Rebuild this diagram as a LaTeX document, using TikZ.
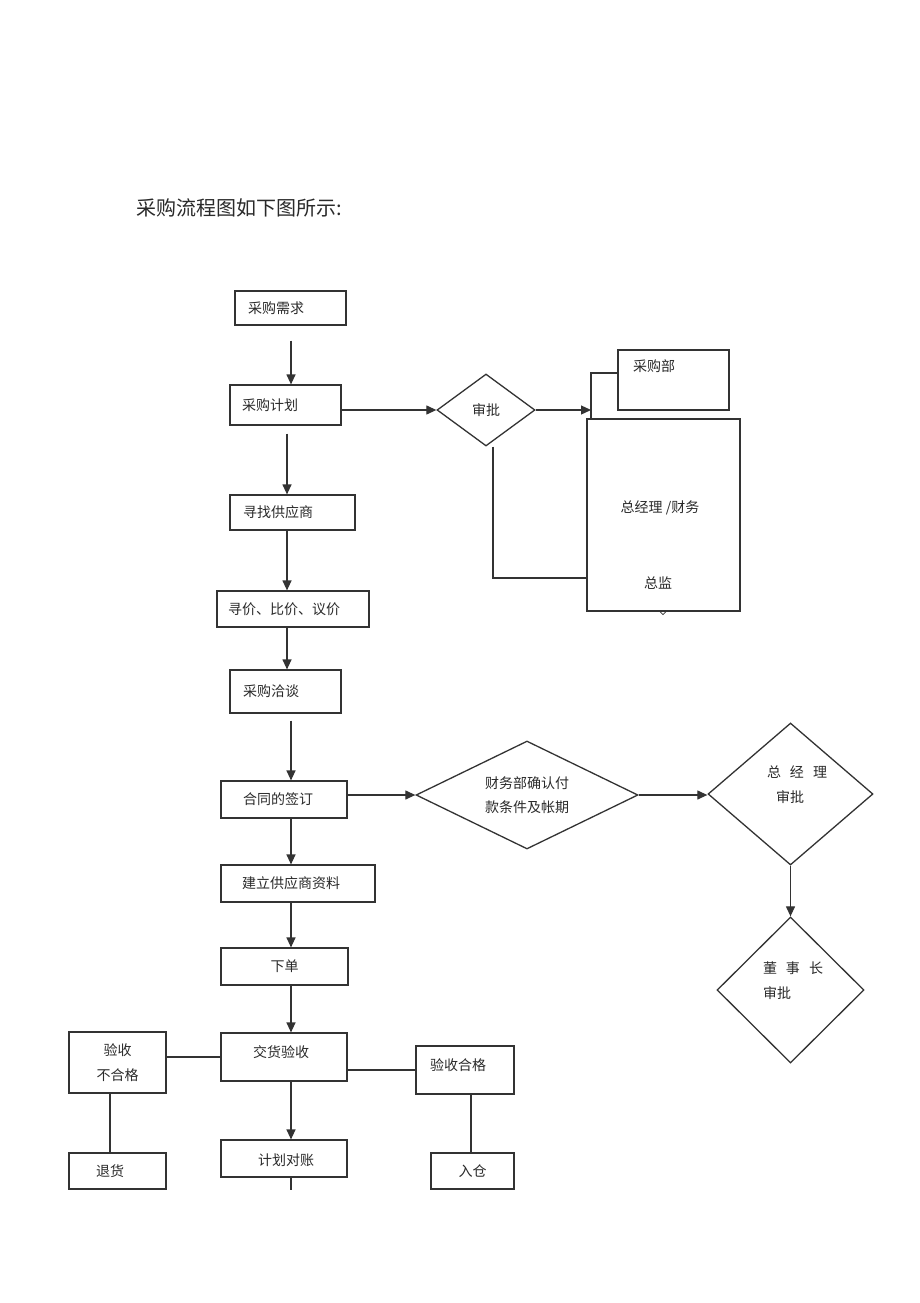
\documentclass[tikz,border=0pt]{standalone}
\usepackage{fontspec}
\newfontfamily\cjk{Noto Sans CJK SC}
\usetikzlibrary{arrows.meta,shapes.geometric}
\definecolor{lc}{HTML}{333333}
\definecolor{tc}{HTML}{2A2A2A}
\begin{document}
\begin{tikzpicture}[x=1pt,y=-1pt,
  box/.style={draw=lc, line width=1.2pt, rectangle, inner ysep=0pt, text=tc,
    font=\cjk\fontsize{14}{16}\selectfont},
  dia/.style={draw=lc, line width=1.3pt, diamond, aspect=2, inner sep=0pt, text=tc,
    font=\cjk\fontsize{14}{16}\selectfont},
  txt/.style={text=tc, inner sep=0pt, font=\cjk\fontsize{14}{16}\selectfont},
  arr/.style={draw=lc, line width=1.2pt, -{Triangle[length=10pt,width=9pt]}},
  ln/.style={draw=lc, line width=1.2pt}]
\useasboundingbox (0,0) rectangle (920,1303);
\fill[white] (0,0) rectangle (920,1303);

% title
\node[txt, anchor=west, font=\cjk\fontsize{20}{22}\selectfont] (title) at (136,208) {采购流程图如下图所示:};

% main column
\node[box, minimum width=111pt, minimum height=34pt, inner xsep=13pt, text width=85pt, align=left] (n1) at (290.5,308) {采购需求};
\node[box, minimum width=111pt, minimum height=40pt, inner xsep=12pt, text width=87pt, align=left] (n2) at (285.5,405) {采购计划};
\node[box, minimum width=125pt, minimum height=35pt, inner xsep=13pt, text width=99pt, align=left] (n3) at (292.5,512.5) {寻找供应商};
\node[box, minimum width=152pt, minimum height=36pt, inner xsep=11pt, text width=130pt, align=left] (n4) at (293,609) {寻价、比价、议价};
\node[box, minimum width=111pt, minimum height=43pt, inner xsep=13pt, text width=85pt, align=left] (n5) at (285.5,691.5) {采购洽谈};
\node[box, minimum width=126pt, minimum height=37pt, inner xsep=22pt, text width=82pt, align=left] (n6) at (284,799.5) {合同的签订};
\node[box, minimum width=154pt, minimum height=37pt, inner xsep=21pt, text width=112pt, align=left] (n7) at (298,883.5) {建立供应商资料};
\node[box, minimum width=127pt, minimum height=37pt] (n8) at (284.5,966.5) {下单};
\node[box, minimum width=126pt, minimum height=48pt] (n9) at (284,1057) {};
\node[txt] (n9t) at (281,1052) {交货验收};
\node[box, minimum width=126pt, minimum height=37pt] (n13) at (284,1158.5) {};
\node[txt] (n13t) at (286,1160) {计划对账};

% side boxes bottom
\node[box, minimum width=97pt, minimum height=61pt, align=center] (n10) at (117.5,1062.5) {验收\\[9pt]不合格};
\node[box, minimum width=98pt, minimum height=48pt] (n11) at (465,1070) {};
\node[txt] (n11t) at (458,1065) {验收合格};
\node[box, minimum width=97pt, minimum height=36pt, inner xsep=27pt, text width=43pt, align=left] (n12) at (117.5,1171) {退货};
\node[box, minimum width=83pt, minimum height=36pt] (n14) at (472.5,1171) {入仓};

% approval right top
\node[dia, minimum width=98pt, minimum height=72pt] (d1) at (486,410) {审批};
\node[box, minimum width=111pt, minimum height=60pt] (cgb) at (673.5,380) {};
\node[txt] (cgbt) at (654,366) {采购部};
\node[box, minimum width=153pt, minimum height=192pt] (big) at (663.5,515) {};
\node[txt] (bt1) at (660,508) {总经理 \textit{/}财务};
\node[txt] (bt2) at (658,583) {总监};

% diamonds right middle
\node[dia, minimum width=222pt, minimum height=108pt, align=center] (d2) at (527,795) {财务部确认付\\[8pt]款条件及帐期};
\node[dia, minimum width=165pt, minimum height=142pt] (d3) at (790.5,794) {};
\node[txt] (d3t1) at (797,772) {总\hspace{9pt}经\hspace{9pt}理};
\node[txt] (d3t2) at (790,797) {审批};
\node[dia, minimum width=147pt, minimum height=146pt] (d4) at (790.5,990) {};
\node[txt] (d4t1) at (793,968) {董\hspace{9pt}事\hspace{9pt}长};
\node[txt] (d4t2) at (777,993) {审批};

% coordinates
\coordinate (j1) at (591,410);
\coordinate (j2) at (591,373);
\coordinate (j3) at (493,578);
\coordinate (endc) at (291,1190);

% vertical arrows main column
\draw[arr, shorten <=15pt] ([xshift=0.5pt]n1.south) -- ([xshift=0.5pt]n1.south |- n2.north);
\draw[arr, shorten <=8pt] ([xshift=1.5pt]n2.south) -- ([xshift=1.5pt]n2.south |- n3.north);
\draw[arr] ([xshift=-5.5pt]n3.south) -- ([xshift=-5.5pt]n3.south |- n4.north);
\draw[arr] ([xshift=-6pt]n4.south) -- ([xshift=-6pt]n4.south |- n5.north);
\draw[arr, shorten <=7pt] ([xshift=5.5pt]n5.south) -- ([xshift=5.5pt]n5.south |- n6.north);
\draw[arr] ([xshift=7pt]n6.south) -- ([xshift=7pt]n6.south |- n7.north);
\draw[arr] ([xshift=-7pt]n7.south) -- ([xshift=-7pt]n7.south |- n8.north);
\draw[arr] ([xshift=6.5pt]n8.south) -- ([xshift=6.5pt]n8.south |- n9.north);
\draw[arr] ([xshift=7pt]n9.south) -- ([xshift=7pt]n9.south |- n13.north);
\draw[ln] ([xshift=7pt]n13.south) -- (endc);

% top right
\draw[arr] (n2.east |- d1.west) -- (d1.west);
\draw[arr] (d1.east) -- (j1);
\draw[ln] (j1 |- big.north) -- (j2) -- (j2 -| cgb.west);
\draw[ln] ([xshift=7pt]d1.south) -- (j3) -- (j3 -| big.west);
\draw[ln, line width=0.8pt] ([xshift=-0.5pt]big.south) ++(-4,-1) -- ++(4,4) -- ++(4,-4);

% middle right
\draw[arr] (n6.east |- d2.west) -- (d2.west);
\draw[arr] (d2.east) -- (d2.east -| d3.west);
\draw[arr] (d3.south) -- (d4.north);

% bottom branches
\draw[ln] (n10.east |- n9.west) -- (n9.west);
\draw[ln] (n9.east |- n11.west) -- (n11.west);
\draw[ln] ([xshift=-7.5pt]n10.south) -- ([xshift=-7.5pt]n10.south |- n12.north);
\draw[ln] ([xshift=6pt]n11.south) -- ([xshift=6pt]n11.south |- n14.north);
\end{tikzpicture}
\end{document}
